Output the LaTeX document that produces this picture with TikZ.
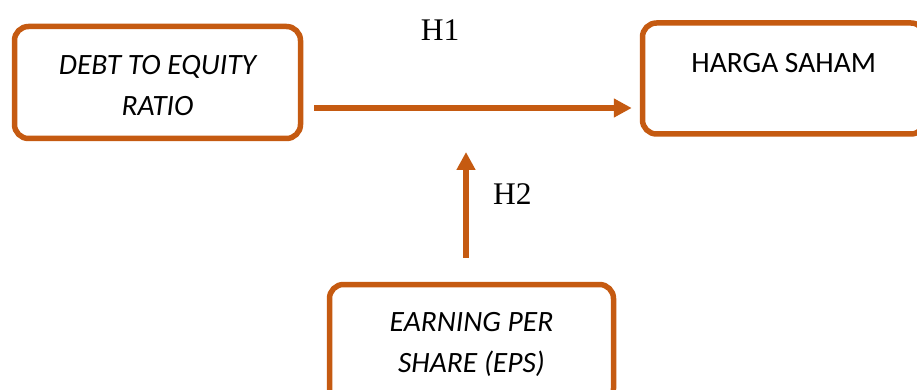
\documentclass[tikz,border=0pt]{standalone}
\usepackage{fontspec}
\setmainfont{Liberation Serif}
\newfontfamily\carlitofont{Carlito}
\usetikzlibrary{arrows.meta}
\definecolor{accorange}{RGB}{197,90,17}
\newcommand{\shiftink}[2]{\raisebox{#1}[\height][\depth]{#2}}
\tikzset{
  varbox/.style={draw=accorange, line width=5.5pt, rounded corners=14pt, rectangle,
    align=center, inner sep=0pt, font=\carlitofont\fontsize{29.5}{41}\selectfont},
  hyplabel/.style={font=\fontsize{31.5}{36}\selectfont, inner sep=0pt},
  arr/.style={draw=accorange, line width=5.5pt, -{Triangle[length=18pt,width=18pt]}}
}
\begin{document}
\begin{tikzpicture}[x=1pt,y=-1pt]
\useasboundingbox (0,0) rectangle (917,390);
\clip (0,0) rectangle (917,390);
\node[varbox, minimum width=286pt, minimum height=112pt] (dte) at (157.5,82.5)
  {\shiftink{-3.5pt}{\itshape DEBT TO EQUITY}\\\shiftink{-3.5pt}{\itshape RATIO}};
\node[varbox, minimum width=282.5pt, minimum height=111pt] (hs) at (783.75,78.5)
  {\shiftink{15.5pt}{HARGA SAHAM}};
\node[varbox, minimum width=284pt, minimum height=118pt] (eps) at (471.5,343.5)
  {\shiftink{-1pt}{\itshape EARNING PER}\\\shiftink{-1pt}{\itshape SHARE (EPS)}};
\coordinate (h2tip) at (466,152);
\draw[arr, shorten <=11pt, shorten >=8pt] (dte.east |- 0,108) -- (hs.west |- 0,108);
\draw[arr, shorten <=24pt] (eps.north -| h2tip) -- (h2tip);
\node[hyplabel, anchor=base] (h1) at (440,41) {H1};
\node[hyplabel, anchor=base west] (h2) at (493,204) {H2};
\end{tikzpicture}
\end{document}
